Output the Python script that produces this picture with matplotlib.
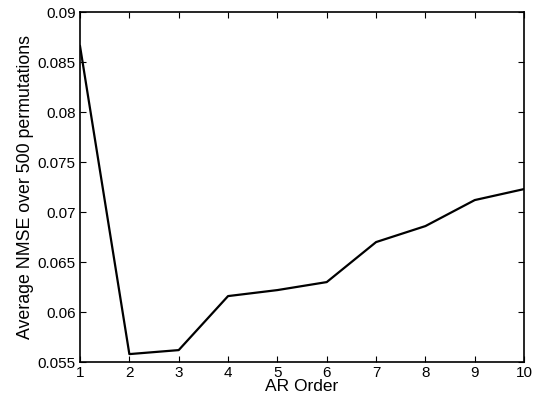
import matplotlib
matplotlib.use("Agg")
import matplotlib.pyplot as plt
import matplotlib.ticker as mticker

ar_order = [1, 2, 3, 4, 5, 6, 7, 8, 9, 10]
avg_nmse = [0.0866, 0.0558, 0.0562, 0.0616, 0.0622, 0.0630, 0.0670, 0.0686, 0.0712, 0.0723]


def main() -> None:
    plt.rcParams["font.family"] = ["Liberation Sans", "DejaVu Sans"]
    plt.rcParams["font.size"] = 11

    fig = plt.figure(figsize=(5.37, 4.01), dpi=100)
    ax = fig.add_axes([0.149, 0.097, 0.827, 0.873])

    ax.plot(ar_order, avg_nmse, color="black", linewidth=1.6)

    ax.set_xlim(1, 10)
    ax.set_ylim(0.055, 0.09)
    ax.xaxis.set_major_locator(mticker.MultipleLocator(1))
    ax.yaxis.set_major_locator(mticker.MultipleLocator(0.005))
    ax.yaxis.set_major_formatter(mticker.FuncFormatter(lambda v, _: f"{v:.3f}".rstrip("0")))
    ax.tick_params(direction="in", top=True, right=True, length=4, width=0.8, pad=3)
    for spine in ax.spines.values():
        spine.set_linewidth(1.2)

    ax.set_xlabel("AR Order", fontsize=12.5, labelpad=-1)
    ax.set_ylabel("Average NMSE over 500 permutations", fontsize=12.8, labelpad=3)

    fig.savefig("out.png", dpi=100)


if __name__ == "__main__":
    main()
